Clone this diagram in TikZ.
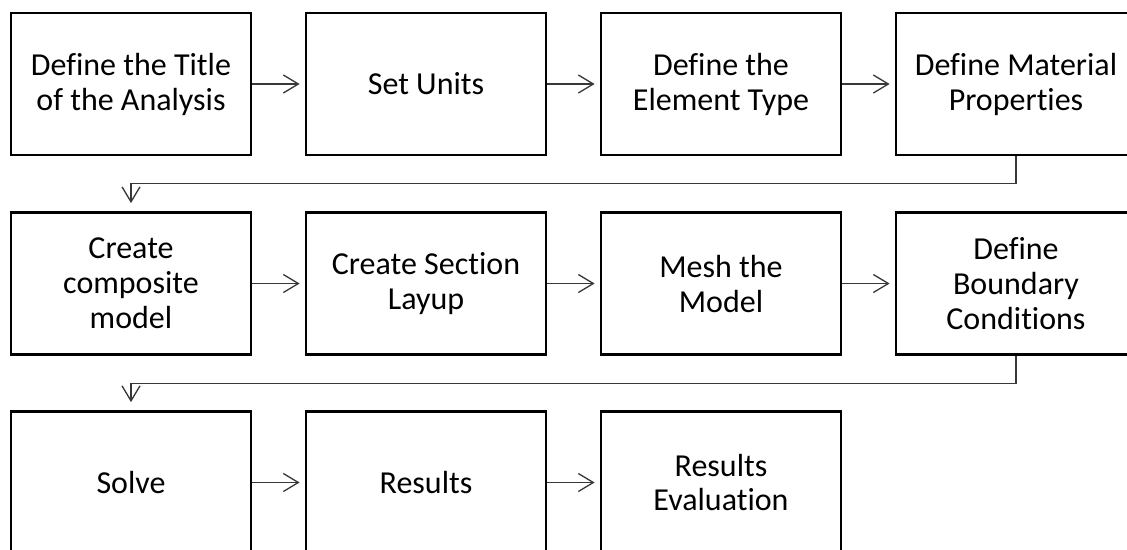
\documentclass[tikz,border=0pt]{standalone}
\usepackage{fontspec}
\setmainfont{Carlito}[Ligatures=NoCommon]
\usetikzlibrary{arrows.meta}
\begin{document}
\begin{tikzpicture}[x=1pt,y=-1pt,
  stepbox/.style={draw=black, line width=2.8pt, minimum width=240pt,
    minimum height=142pt, inner sep=0pt, align=center,
    font=\fontsize{32}{35}\selectfont},
  flow/.style={draw=black!78, line width=1.3pt,
    -{Straight Barb[length=15pt,width=18pt,line width=1.3pt]},
    shorten >=5pt}]
\clip (0,0) rectangle (1127,549);
% first row
\node[stepbox] (b1) at (131,84)  {Define the Title\\of the Analysis};
\node[stepbox] (b2) at (426,84)  {Set Units};
\node[stepbox] (b3) at (721,84)  {Define the\\Element Type};
\node[stepbox] (b4) at (1016,84) {Define Material\\Properties};
% second row
\node[stepbox] (b5) at (131,283.5)  {Create\\composite\\model};
\node[stepbox] (b6) at (426,283.5)  {Create Section\\Layup};
\node[stepbox] (b7) at (721,283.5)  {Mesh the\\Model};
\node[stepbox] (b8) at (1016,283.5) {Define\\Boundary\\Conditions};
% third row
\node[stepbox] (b9)  at (131,482.5) {Solve};
\node[stepbox] (b10) at (426,482.5) {Results};
\node[stepbox] (b11) at (721,482.5) {Results\\Evaluation};
% connectors
\draw[flow] (b1) -- (b2);
\draw[flow] (b2) -- (b3);
\draw[flow] (b3) -- (b4);
\draw[flow, shorten >=8pt] (b4.south) -- ++(0,27.3) -| (b5.north);
\draw[flow] (b5) -- (b6);
\draw[flow] (b6) -- (b7);
\draw[flow] (b7) -- (b8);
\draw[flow, shorten >=8pt] (b8.south) -- ++(0,27.3) -| (b9.north);
\draw[flow] (b9) -- (b10);
\draw[flow] (b10) -- (b11);
\end{tikzpicture}
\end{document}
